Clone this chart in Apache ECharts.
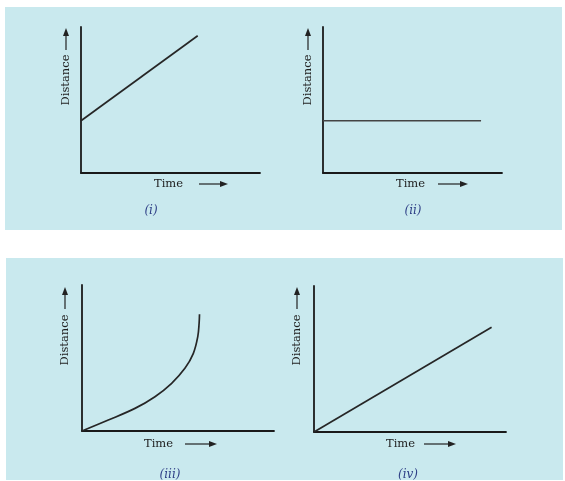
<!DOCTYPE html>
<html>
<head>
<meta charset="utf-8">
<script src="https://cdn.jsdelivr.net/npm/echarts@6/dist/echarts.min.js"></script>
<style>html,body{margin:0;padding:0;background:#fff;}#c{width:565px;height:481px;}</style>
</head>
<body>
<div id="c"></div>
<script>
// Panel captions and axis titles
const captions = ['(i)', '(ii)', '(iii)', '(iv)'];
const xTitle = 'Time';
const yTitle = 'Distance';

// Series values (x, y on a 0–100 scale for each graph)
const lineI = [[0, 35.8], [65.2, 94]];
const lineII = [[0, 35.8], [88.3, 35.8]];
const curveIII = [[0, 0], [13.7, 7.5], [27.6, 15.5], [38, 23.5], [46.7, 32.7], [53.6, 42.9], [58, 53.2], [60.3, 64.6], [61, 73.8], [61.2, 80]];
const lineIV = [[0, 0], [92.5, 71.7]];
const seriesData = [lineI, lineII, curveIII, lineIV];

const grids = [
  {left: 81, top: 27, width: 179, height: 146},
  {left: 323, top: 27, width: 179, height: 146},
  {left: 82, top: 285, width: 192, height: 146},
  {left: 314, top: 286, width: 192, height: 146}
];

const axisColor = '#1a1a1a';
const font = 'DejaVu Serif';

const xAxes = grids.map((g, i) => ({
  type: 'value', gridIndex: i, min: 0, max: 100,
  axisLine: {show: true, onZero: false, lineStyle: {color: axisColor, width: 1.8}},
  axisTick: {show: false}, axisLabel: {show: false}, splitLine: {show: false}
}));
const yAxes = grids.map((g, i) => ({
  type: 'value', gridIndex: i, min: 0, max: 100,
  axisLine: {show: true, onZero: false, lineStyle: {color: axisColor, width: 1.8}},
  axisTick: {show: false}, axisLabel: {show: false}, splitLine: {show: false}
}));

const series = seriesData.map((d, i) => ({
  type: 'line', xAxisIndex: i, yAxisIndex: i, data: d,
  showSymbol: false, symbol: 'none',
  smooth: i === 2 ? 0.35 : false,
  lineStyle: {color: i === 1 ? '#444' : '#262626', width: 1.7},
  silent: true, animation: false
}));

function arrowRight(x1, x2, y) {
  return {type: 'group', children: [
    {type: 'line', shape: {x1: x1, y1: y, x2: x2 - 5, y2: y}, style: {stroke: '#222', lineWidth: 1.2}},
    {type: 'polygon', shape: {points: [[x2, y], [x2 - 8, y - 3], [x2 - 8, y + 3]]}, style: {fill: '#222'}}
  ]};
}
function arrowUp(x, y1, y2) {
  return {type: 'group', children: [
    {type: 'line', shape: {x1: x, y1: y1, x2: x, y2: y2 + 5}, style: {stroke: '#222', lineWidth: 1.2}},
    {type: 'polygon', shape: {points: [[x, y2], [x - 3, y2 + 8], [x + 3, y2 + 8]]}, style: {fill: '#222'}}
  ]};
}
const fs = '11.5px';
function hText(str, x, y, align) {
  return {type: 'text', x: x, y: y, style: {text: str, font: fs + ' "' + font + '"', fill: '#222', align: align || 'left', verticalAlign: 'middle'}};
}
function vText(str, x, y) {
  return {type: 'text', x: x, y: y, rotation: Math.PI / 2, style: {text: str, font: fs + ' "' + font + '"', fill: '#222', align: 'center', verticalAlign: 'middle'}};
}
function caption(str, x, y) {
  return {type: 'text', x: x, y: y, style: {text: str, font: 'italic 12px "' + font + '"', fill: '#2e3f86', align: 'center', verticalAlign: 'middle'}};
}

const bg = '#c9e9ee';
const graphic = [
  {type: 'rect', z: -10, shape: {x: 5, y: 7, width: 557, height: 223}, style: {fill: bg}},
  {type: 'rect', z: -10, shape: {x: 6, y: 258, width: 557, height: 222}, style: {fill: bg}},
  // (i)
  hText(xTitle, 154, 184), arrowRight(199, 228, 184),
  vText(yTitle, 66, 80), arrowUp(66, 50, 28),
  caption(captions[0], 151, 211),
  // (ii)
  hText(xTitle, 396, 184), arrowRight(438, 468, 184),
  vText(yTitle, 308, 80), arrowUp(308, 50, 28),
  caption(captions[1], 413, 211),
  // (iii)
  hText(xTitle, 144, 444), arrowRight(185, 217, 444),
  vText(yTitle, 65, 340), arrowUp(65, 309, 287),
  caption(captions[2], 170, 475),
  // (iv)
  hText(xTitle, 386, 444), arrowRight(424, 456, 444),
  vText(yTitle, 297, 340), arrowUp(297, 309, 287),
  caption(captions[3], 408, 475)
];

const chart = echarts.init(document.getElementById('c'));
chart.setOption({
  animation: false,
  grid: grids,
  xAxis: xAxes,
  yAxis: yAxes,
  series: series,
  graphic: graphic
});
</script>
</body>
</html>
